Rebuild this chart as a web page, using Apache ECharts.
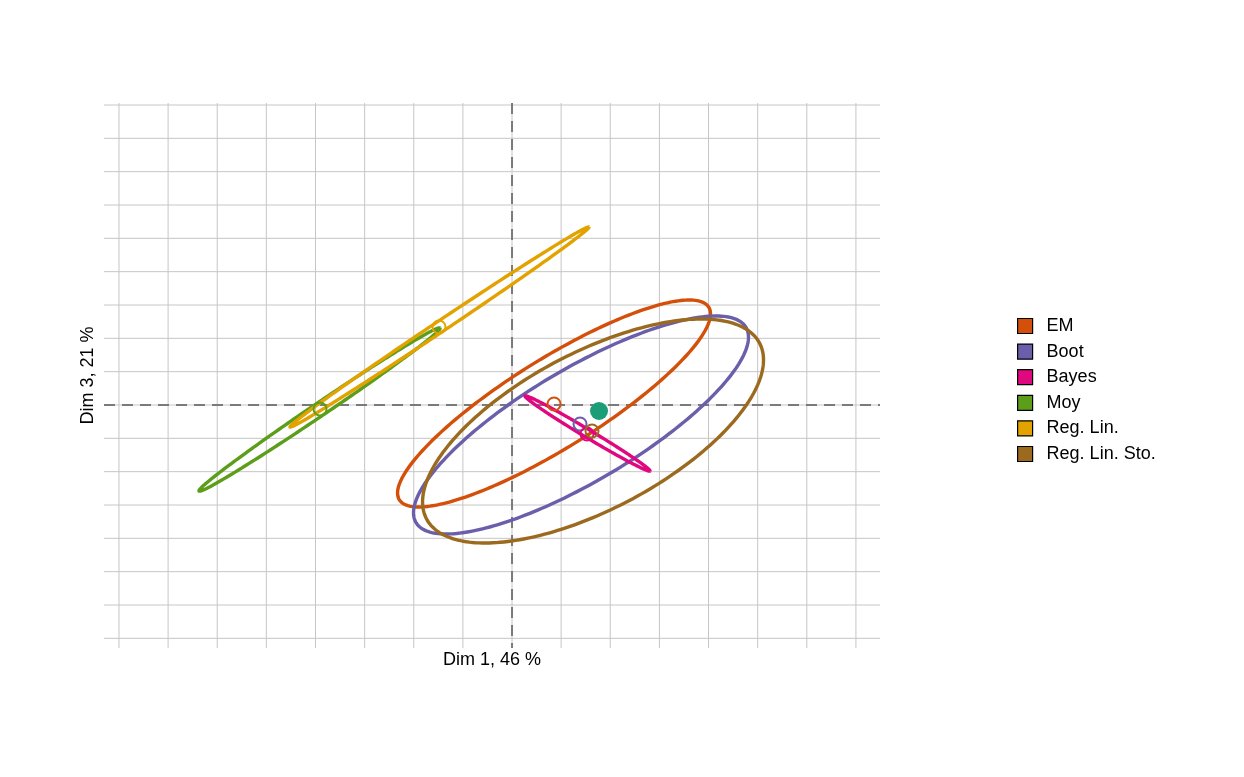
<!DOCTYPE html>
<html>
<head>
<meta charset="utf-8">
<script src="https://cdn.jsdelivr.net/npm/echarts@6/dist/echarts.min.js"></script>
<style>
  html, body { margin: 0; padding: 0; background: #ffffff; }
  #chart { width: 1244px; height: 777px; }
</style>
</head>
<body>
<div id="chart"></div>
<script>
// ---- data ----
const names = ['EM', 'Boot', 'Bayes', 'Moy', 'Reg. Lin.', 'Reg. Lin. Sto.'];
const colors = ['#D4500A', '#6A5FAA', '#E0087F', '#5C9E1A', '#E2A300', '#9C6A1E'];
// ellipse centres
const centerX = [0.855, 1.404, 1.537, -3.918, -1.476, 1.649];
const centerY = [0.045, -0.600, -0.855, -0.135, 2.340, -0.780];
// conjugate semi-axis vectors of each confidence ellipse
const axisUX = [3.185, 3.409, 1.272, 2.453, 3.043, 3.470];
const axisUY = [2.685, 2.634, -1.125, 2.445, 3.000, 2.130];
const axisVX = [0, 0, -0.042, 0.075, 0.062, 0];
const axisVY = [-1.560, -1.938, -0.103, -0.163, -0.137, -2.598];
// estimated points (open circles)
const pointX = [0.855, 1.384, 1.527, -3.908, -1.486, 1.628];
const pointY = [0.03, -0.57, -0.87, -0.12, 2.34, -0.78];
// reference point (filled)
const refPoint = [1.771, -0.18];
// grid lines
const gridX = [-8, -7, -6, -5, -4, -3, -2, -1, 0, 1, 2, 3, 4, 5, 6, 7];
const gridY = [-7, -6, -5, -4, -3, -2, -1, 0, 1, 2, 3, 4, 5, 6, 7, 8, 9];
const xRange = [-8.305, 7.490];
const yRange = [-7.29, 9.06];

const FONT = "'Liberation Sans', Arial, Helvetica, sans-serif";

function vLine(color, width, dash) {
  return function (params, api) {
    const cs = params.coordSys;
    const x = api.coord([api.value(0), 0])[0];
    return { type: 'line', shape: { x1: x, y1: cs.y, x2: x, y2: cs.y + cs.height },
      style: { stroke: color, lineWidth: width, lineDash: dash } };
  };
}
function hLine(color, width, dash) {
  return function (params, api) {
    const cs = params.coordSys;
    const y = api.coord([0, api.value(1)])[1];
    return { type: 'line', shape: { x1: cs.x, y1: y, x2: cs.x + cs.width, y2: y },
      style: { stroke: color, lineWidth: width, lineDash: dash } };
  };
}

function ellipseItem(params, api) {
  const i = api.value(2);
  const cx = api.value(0), cy = api.value(1);
  const N = 240;
  const pts = [];
  for (let k = 0; k <= N; k++) {
    const t = 2 * Math.PI * k / N;
    const c = Math.cos(t), s = Math.sin(t);
    pts.push(api.coord([cx + axisUX[i] * c + axisVX[i] * s, cy + axisUY[i] * c + axisVY[i] * s]));
  }
  return { type: 'polyline', shape: { points: pts },
    style: { stroke: colors[i], lineWidth: 3.4, fill: null, lineJoin: 'round', opacity: 1 } };
}

const series = [];
const gridColor = '#c6c6c6';
series.push({ name: 'gridV', type: 'custom', renderItem: vLine(gridColor, 1, null),
  data: gridX.map(v => [v, 0]), silent: true, z: 1 });
series.push({ name: 'gridH', type: 'custom', renderItem: hLine(gridColor, 1, null),
  data: gridY.map(v => [0, v]), silent: true, z: 1 });
series.push({ name: 'zeroV', type: 'custom', renderItem: vLine('#7a7a7a', 2, [11, 7]),
  data: [[0, 0]], silent: true, z: 2 });
series.push({ name: 'zeroH', type: 'custom', renderItem: hLine('#7a7a7a', 2, [11, 7]),
  data: [[0, 0]], silent: true, z: 2 });

names.forEach((n, i) => {
  series.push({
    name: n, type: 'custom', renderItem: ellipseItem,
    itemStyle: { color: colors[i] },
    encode: { x: 0, y: 1 },
    data: [[centerX[i], centerY[i], i]], z: 3
  });
});
names.forEach((n, i) => {
  series.push({
    name: n, type: 'scatter', symbol: 'circle', symbolSize: 13,
    itemStyle: { color: 'rgba(0,0,0,0)', borderColor: colors[i], borderWidth: 2, opacity: 1 },
    data: [[pointX[i], pointY[i]]], z: 4
  });
});
series.push({
  name: 'ref', type: 'scatter', symbol: 'circle', symbolSize: 18,
  itemStyle: { color: '#1B9E77', opacity: 1 }, data: [refPoint], z: 5
});

const chart = echarts.init(document.getElementById('chart'), null, { renderer: 'canvas' });
chart.setOption({
  animation: false,
  backgroundColor: '#ffffff',
  textStyle: { fontFamily: FONT },
  grid: { left: 104, top: 103, width: 776, height: 545, containLabel: false },
  xAxis: {
    type: 'value', min: xRange[0], max: xRange[1],
    axisLine: { show: false }, axisTick: { show: false }, axisLabel: { show: false },
    splitLine: { show: false },
    name: 'Dim 1, 46 %', nameLocation: 'middle', nameGap: 3,
    nameTextStyle: { fontSize: 18, color: '#000', fontFamily: FONT, verticalAlign: 'top' }
  },
  yAxis: {
    type: 'value', min: yRange[0], max: yRange[1],
    axisLine: { show: false }, axisTick: { show: false }, axisLabel: { show: false },
    splitLine: { show: false },
    name: 'Dim 3, 21 %', nameLocation: 'middle', nameGap: 7,
    nameTextStyle: { fontSize: 18, color: '#000', fontFamily: FONT }
  },
  legend: {
    orient: 'vertical', left: 1012, top: 312,
    itemWidth: 15, itemHeight: 15, itemGap: 7.6,
    textStyle: { fontSize: 18, color: '#000', fontFamily: FONT, padding: [0, 0, 0, 9] },
    data: names.map((n, i) => ({
      name: n, icon: 'rect',
      itemStyle: { color: colors[i], borderColor: '#000', borderWidth: 1.2 }
    }))
  },
  series: series
});
</script>
</body>
</html>
